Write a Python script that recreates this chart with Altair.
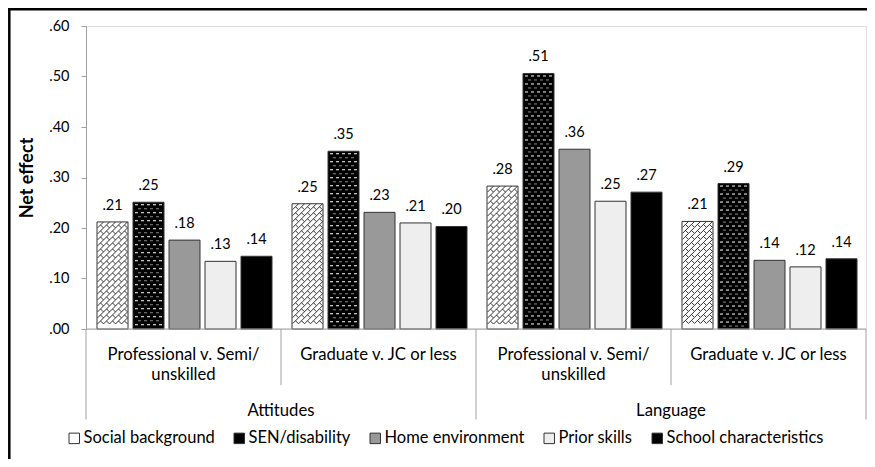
import altair as alt
import pandas as pd

# ---------------- data ----------------
outcomes = ["Attitudes", "Language"]
contrasts = ["Professional v. Semi/\nunskilled", "Graduate v. JC or less"]
series = ["Social background", "SEN/disability", "Home environment",
          "Prior skills", "School characteristics"]
# order of panels: Attitudes/Professional, Attitudes/Graduate, Language/Professional, Language/Graduate
social_background = [0.212, 0.248, 0.283, 0.213]
sen_disability = [0.251, 0.352, 0.506, 0.288]
home_environment = [0.176, 0.231, 0.356, 0.136]
prior_skills = [0.134, 0.210, 0.253, 0.123]
school_characteristics = [0.144, 0.203, 0.271, 0.139]
y_ticks = [0.0, 0.1, 0.2, 0.3, 0.4, 0.5, 0.6]

series_values = [social_background, sen_disability, home_environment,
                 prior_skills, school_characteristics]
fills = ["#ffffff", "#000000", "#999999", "#eeeeee", "#000000"]

# ---------------- layout ----------------
W, H = 780, 303
YMAX = 0.6
NG = 4
BAR_OFF, BAR_STEP, BAR_W = 11, 36, 31
UX = NG / W      # x units per pixel
UY = YMAX / H    # y units per pixel
FONT = "Lato"
LINE = "#a0a0a0"
YTITLE = "Net effect"

rows = []
for g in range(NG):
    for k, name in enumerate(series):
        x0 = g + (BAR_OFF + k * BAR_STEP) * UX
        rows.append({"group": g, "series": name, "value": series_values[k][g],
                     "x0": x0, "x1": x0 + BAR_W * UX, "xc": x0 + BAR_W * UX / 2})
bars = pd.DataFrame(rows)

# texture for "Social background" (diagonal brick hatch)
C = 6
hatch = []
for _, r in bars[bars.series == series[0]].iterrows():
    hpx = r.value / UY
    for j in range(int(hpx // C)):
        for i in range(int(BAR_W // C)):
            hatch.append({"x": r.x0 + (0.5 + (i + 0.5) * C) * UX,
                          "y": (hpx - (j + 0.5) * C) * UY})
hatch = pd.DataFrame(hatch)

# texture for "SEN/disability" (rows of dashes)
dash_w, dash_g = [], []
for _, r in bars[bars.series == series[1]].iterrows():
    hpx = r.value / UY
    j = 0
    ypx = hpx - 2.5
    while ypx > 2:
        off = 3 if j % 2 else 0
        cx = 3.5 + off
        while cx + 1.5 <= BAR_W - 1:
            (dash_g if j % 2 else dash_w).append({"x": r.x0 + cx * UX, "y": ypx * UY})
            cx += 6
        j += 1
        ypx -= 4
dash_w = pd.DataFrame(dash_w)
dash_g = pd.DataFrame(dash_g)

xs = alt.Scale(domain=[0, NG], nice=False, zero=False)
ys = alt.Scale(domain=[0, YMAX], nice=False)


def yq(field):
    return alt.Y(field, scale=ys, title=YTITLE)


base_bars = alt.Chart(bars)

fill_layer = base_bars.mark_rect(strokeWidth=0).encode(
    x=alt.X("x0:Q", scale=xs, axis=None),
    x2="x1:Q",
    y=alt.Y("value:Q", scale=ys, title=YTITLE,
            axis=alt.Axis(values=y_ticks,
                          labelExpr="substring(format(datum.value, '.2f'), 1)",
                          grid=False, domainColor=LINE, tickColor=LINE,
                          tickSize=5, labelPadding=12, labelFont=FONT,
                          labelFontSize=14.5, labelColor="#000000",
                          titleFont=FONT, titleFontSize=18, titleFontWeight="bold",
                          titleColor="#000000", titlePadding=12)),
    y2=alt.datum(0),
    fill=alt.Fill("series:N", sort=series,
                  scale=alt.Scale(domain=series, range=fills),
                  legend=alt.Legend(orient="none", legendX=-20, legendY=404,
                                    direction="horizontal", title=None,
                                    symbolType="square", symbolSize=110,
                                    symbolStrokeColor="#333333", symbolStrokeWidth=1,
                                    labelFont=FONT, labelFontSize=16.5,
                                    labelColor="#000000", labelOffset=1,
                                    columnPadding=16, padding=0, labelLimit=0)),
)

hatch_layer = alt.Chart(hatch).mark_point(
    shape="M-1,1L1,-1M0,0L1,1", size=C * C, filled=False,
    stroke="#333333", strokeWidth=1, opacity=1,
).encode(x=alt.X("x:Q", scale=xs, axis=None), y=yq("y:Q"))

dash_w_layer = alt.Chart(dash_w).mark_point(
    shape="M-1,0L1,0", size=9, filled=False, stroke="#ffffff",
    strokeWidth=1, opacity=1,
).encode(x=alt.X("x:Q", scale=xs, axis=None), y=yq("y:Q"))

dash_g_layer = alt.Chart(dash_g).mark_point(
    shape="M-1,0L1,0", size=9, filled=False, stroke="#8a8a8a",
    strokeWidth=1, opacity=1,
).encode(x=alt.X("x:Q", scale=xs, axis=None), y=yq("y:Q"))

outline_layer = base_bars.mark_rect(fillOpacity=0, stroke="#333333", strokeWidth=1).encode(
    x=alt.X("x0:Q", scale=xs, axis=None), x2="x1:Q",
    y=yq("value:Q"), y2=alt.datum(0),
)

label_layer = base_bars.transform_calculate(
    lab="substring(format(datum.value, '.2f'), 1)"
).mark_text(font=FONT, fontSize=14.5, baseline="alphabetic", dy=-12, color="#000000").encode(
    x=alt.X("xc:Q", scale=xs, axis=None),
    y=yq("value:Q"),
    text="lab:N",
)

baseline = alt.Chart(pd.DataFrame({"a": [0], "b": [NG], "v": [0]})).mark_rule(
    color=LINE, strokeWidth=1).encode(
    x=alt.X("a:Q", scale=xs, axis=None), x2="b:Q", y=yq("v:Q"))

main_sep = alt.Chart(pd.DataFrame({"b": [0, 2, 4]})).mark_rule(color=LINE).encode(
    x=alt.X("b:Q", scale=xs, axis=None), y=alt.value(H), y2=alt.value(H + 90.5))
sub_sep = alt.Chart(pd.DataFrame({"b": [1, 3]})).mark_rule(color=LINE).encode(
    x=alt.X("b:Q", scale=xs, axis=None), y=alt.value(H), y2=alt.value(H + 56))

cat_df = pd.DataFrame({"x": [g + 0.5 for g in range(NG)],
                       "t": [contrasts[g % 2] for g in range(NG)]})
cat_layer = alt.Chart(cat_df).mark_text(
    font=FONT, fontSize=16.7, lineBreak="\n", lineHeight=20.7,
    baseline="alphabetic", align="center", color="#000000").encode(
    x=alt.X("x:Q", scale=xs, axis=None), y=alt.value(333.5), text="t:N")

out_df = pd.DataFrame({"x": [1, 3], "t": outcomes})
out_layer = alt.Chart(out_df).mark_text(
    font=FONT, fontSize=16.7, baseline="alphabetic", align="center", color="#000000").encode(
    x=alt.X("x:Q", scale=xs, axis=None), y=alt.value(389.5), text="t:N")

frame = alt.Chart(pd.DataFrame({"z": [0]}))
frame_left = frame.mark_rule(color="#000000", strokeWidth=2.5).encode(
    x=alt.value(-76.7), y=alt.value(-18), y2=alt.value(H + 130))
frame_top = frame.mark_rule(color="#000000", strokeWidth=2.5).encode(
    x=alt.value(-78), x2=alt.value(W + 1), y=alt.value(-16.7))

chart = alt.layer(
    fill_layer, hatch_layer, dash_w_layer, dash_g_layer, outline_layer,
    label_layer, baseline, main_sep, sub_sep, cat_layer, out_layer,
    frame_left, frame_top,
).properties(
    width=W, height=H,
    autosize=alt.AutoSizeParams(type="none"),
    padding={"left": 78, "top": 18, "right": 1, "bottom": 130},
).configure_view(strokeWidth=0).configure(background="#ffffff")

chart.save("out.html", embed_options={"renderer": "svg", "actions": False})
